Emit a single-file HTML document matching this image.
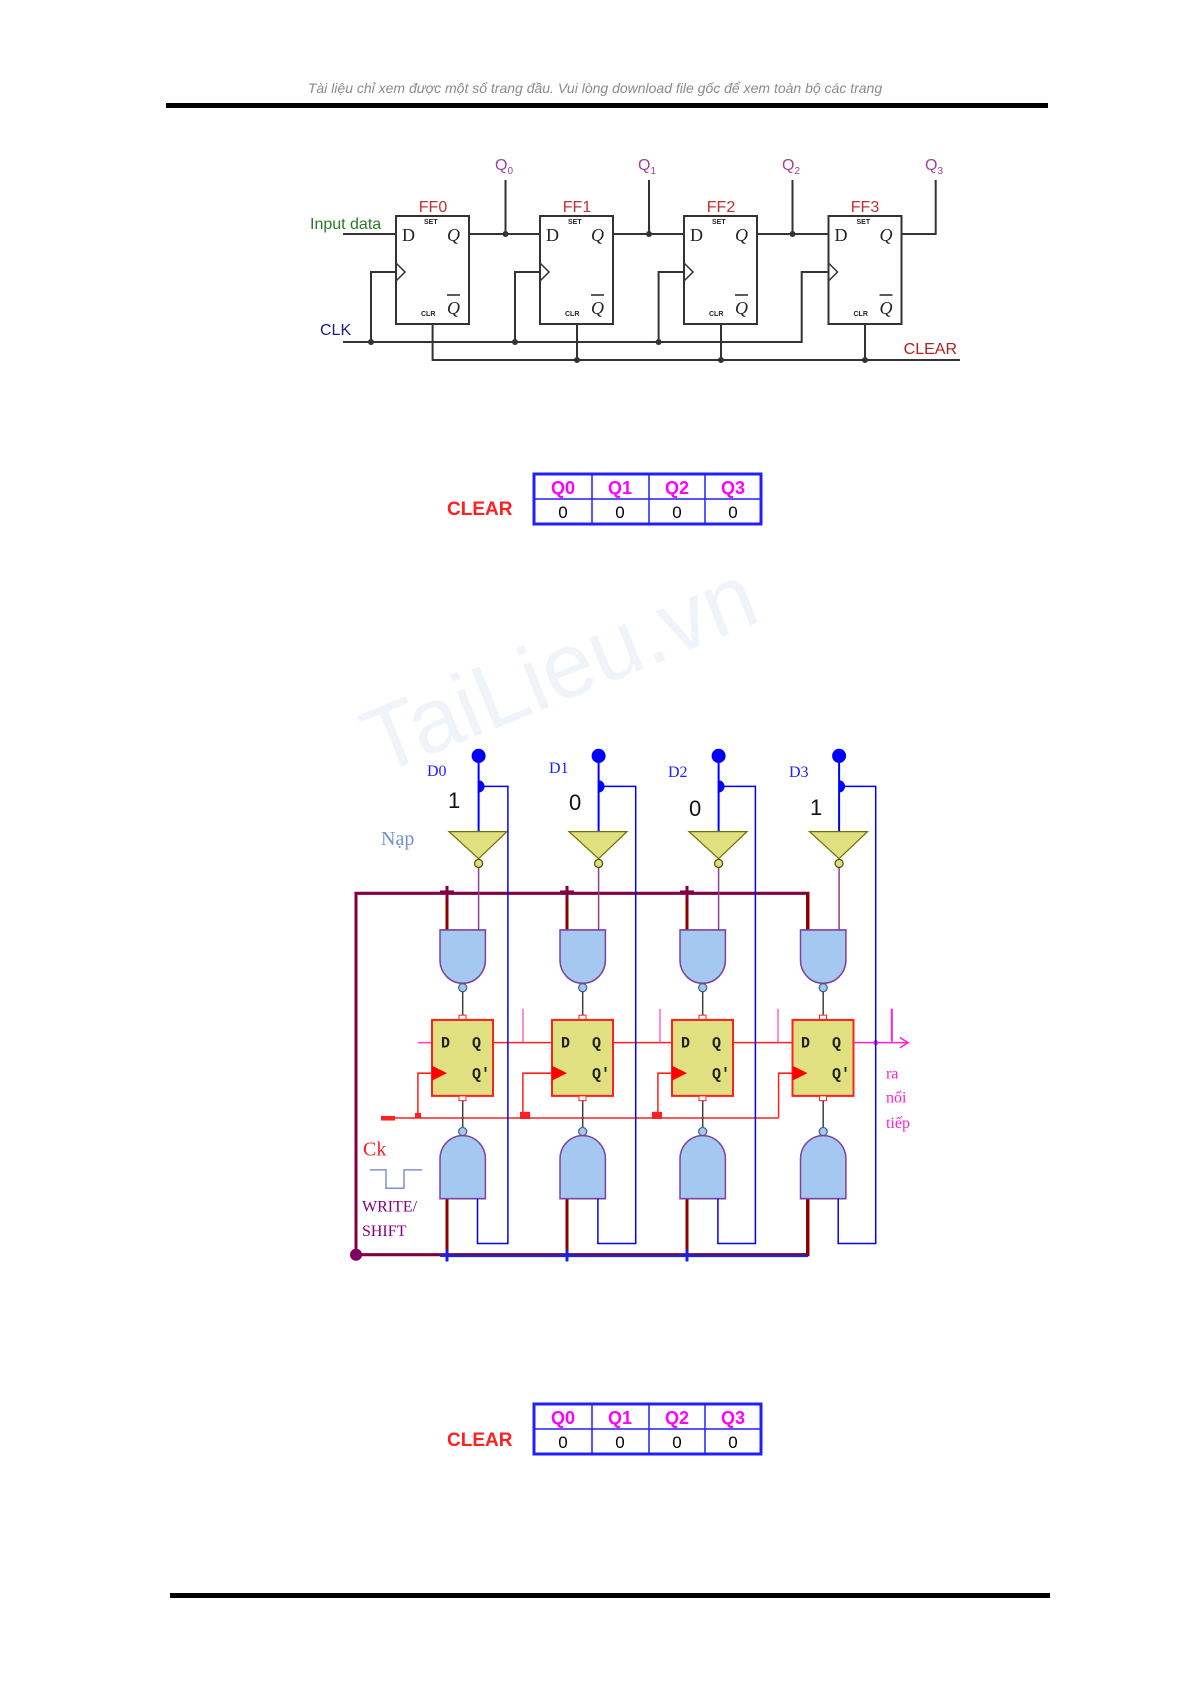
<!DOCTYPE html>
<html><head><meta charset="utf-8"><style>
html,body{margin:0;padding:0;background:#fff;}
svg{display:block;}
</style></head><body>
<svg width="1191" height="1685" viewBox="0 0 1191 1685" xmlns="http://www.w3.org/2000/svg" font-family="Liberation Sans, sans-serif">
<!-- header -->
<text x="595" y="93" font-size="14" font-style="italic" fill="#8a8a8a" text-anchor="middle">Tài liệu chỉ xem được một số trang đầu. Vui lòng download file gốc để xem toàn bộ các trang</text>
<rect x="166" y="103" width="882" height="5" fill="#000"/>
<rect x="170" y="1593" width="880" height="5" fill="#000"/>

<!-- watermark -->
<text x="560" y="700" font-size="92" fill="#c8dced" opacity="0.3" text-anchor="middle" transform="rotate(-22 560 670)">TaiLieu.vn</text>

<!-- ===== top diagram ===== -->
<g stroke="#333" stroke-width="2" fill="none">
<line x1="343" y1="234" x2="396" y2="234"/>
<line x1="469.5" y1="234" x2="540" y2="234"/>
<line x1="612" y1="234" x2="684" y2="234"/>
<line x1="756.6" y1="234" x2="828.6" y2="234"/>
<polyline points="901,234 935.7,234 935.7,180"/>
<line x1="505.5" y1="234" x2="505.5" y2="180"/>
<line x1="649" y1="234" x2="649" y2="180"/>
<line x1="792.5" y1="234" x2="792.5" y2="180"/>
<polyline points="343,342 801.7,342 801.7,272 828.6,272"/>
<polyline points="371,342 371,272 396,272"/>
<polyline points="515,342 515,272 540,272"/>
<polyline points="658.6,342 658.6,272 684,272"/>
<polyline points="432.6,324 432.6,360 960,360"/>
<line x1="577" y1="324" x2="577" y2="360"/>
<line x1="721" y1="324" x2="721" y2="360"/>
<line x1="865" y1="324" x2="865" y2="360"/>
</g>
<g fill="#333">
<circle cx="505.5" cy="234" r="3"/><circle cx="649" cy="234" r="3"/><circle cx="792.5" cy="234" r="3"/>
<circle cx="371" cy="342" r="3"/><circle cx="515" cy="342" r="3"/><circle cx="658.6" cy="342" r="3"/>
<circle cx="577" cy="360" r="3"/><circle cx="721" cy="360" r="3"/><circle cx="865" cy="360" r="3"/>
</g>
<g id="ff">
<rect x="396" y="216" width="73" height="108" fill="#fff" stroke="#333" stroke-width="2"/>
<polyline points="396,263 405,272 396,281" fill="none" stroke="#333" stroke-width="1.5"/>
<text x="402" y="241" font-family="Liberation Serif, serif" font-size="18" fill="#222">D</text>
<text x="424" y="224" font-size="7" font-weight="bold" fill="#222">SET</text>
<text x="447" y="241" font-family="Liberation Serif, serif" font-style="italic" font-size="18" fill="#222">Q</text>
<text x="447" y="314" font-family="Liberation Serif, serif" font-style="italic" font-size="18" fill="#222">Q</text>
<line x1="447" y1="295" x2="460" y2="295" stroke="#222" stroke-width="1.5"/>
<text x="421" y="316" font-size="7" font-weight="bold" fill="#222">CLR</text>
</g>
<use href="#ff" x="144"/><use href="#ff" x="288"/><use href="#ff" x="432.5"/>
<g font-size="16" fill="#c03030" text-anchor="middle">
<text x="433" y="212">FF0</text><text x="577" y="212">FF1</text><text x="721" y="212">FF2</text><text x="865" y="212">FF3</text>
</g>
<g font-size="16" fill="#a040a0" text-anchor="middle">
<text x="504" y="170">Q<tspan font-size="10" dy="4">0</tspan></text>
<text x="647" y="170">Q<tspan font-size="10" dy="4">1</tspan></text>
<text x="791" y="170">Q<tspan font-size="10" dy="4">2</tspan></text>
<text x="934" y="170">Q<tspan font-size="10" dy="4">3</tspan></text>
</g>
<text x="310" y="229" font-size="16" fill="#2a7a2a">Input data</text>
<text x="320" y="335" font-size="16" fill="#1a1a90">CLK</text>
<text x="957" y="354" font-size="16" fill="#b02020" text-anchor="end">CLEAR</text>

<!-- table 1 -->
<g id="tbl">
<rect x="534" y="474" width="227" height="50" fill="#fff" stroke="#2020ff" stroke-width="3"/>
<line x1="534" y1="499" x2="761" y2="499" stroke="#2020ff" stroke-width="1.5"/>
<line x1="592" y1="474" x2="592" y2="524" stroke="#2020ff" stroke-width="1.5"/>
<line x1="649" y1="474" x2="649" y2="524" stroke="#2020ff" stroke-width="1.5"/>
<line x1="705" y1="474" x2="705" y2="524" stroke="#2020ff" stroke-width="1.5"/>
</g>
<g font-size="18" font-weight="bold" fill="#ff00ff" text-anchor="middle">
<text x="563" y="494">Q0</text><text x="620" y="494">Q1</text><text x="677" y="494">Q2</text><text x="733" y="494">Q3</text>
</g>
<g font-size="17" fill="#000" text-anchor="middle">
<text x="563" y="518">0</text><text x="620" y="518">0</text><text x="677" y="518">0</text><text x="733" y="518">0</text>
</g>
<text x="447" y="515" font-size="19" font-weight="bold" fill="#ff2020">CLEAR</text>

<!-- table 2 -->
<use href="#tbl" y="930"/>
<g font-size="18" font-weight="bold" fill="#ff00ff" text-anchor="middle">
<text x="563" y="1424">Q0</text><text x="620" y="1424">Q1</text><text x="677" y="1424">Q2</text><text x="733" y="1424">Q3</text>
</g>
<g font-size="17" fill="#000" text-anchor="middle">
<text x="563" y="1448">0</text><text x="620" y="1448">0</text><text x="677" y="1448">0</text><text x="733" y="1448">0</text>
</g>
<text x="447" y="1446" font-size="19" font-weight="bold" fill="#ff2020">CLEAR</text>

<!-- ===== bottom diagram ===== -->
<defs>
<g id="col">
<line x1="447" y1="893" x2="447" y2="929.3" stroke="#8b0000" stroke-width="3"/>
<line x1="447" y1="1193.3" x2="447" y2="1249" stroke="#8b0000" stroke-width="3"/>
<circle cx="478.6" cy="758.3" r="7" fill="#0000ff"/>
<line x1="478.6" y1="758.3" x2="478.6" y2="832.7" stroke="#0000ff" stroke-width="2"/>
<path d="M478.6,782.3 a6,6 0 0 1 0,12 z" fill="#0000ff"/>
<polygon points="449,832.7 507,832.7 478.6,859.3" fill="#e0e080" stroke="#707000" stroke-width="1.2"/>
<circle cx="478.6" cy="864" r="4" fill="#e0e080" stroke="#505000" stroke-width="1.2"/>
<line x1="478.6" y1="868" x2="478.6" y2="929.3" stroke="#904090" stroke-width="1.5"/>
<path d="M440,929.3 H485.4 V959 A22.7,22.7 0 0 1 440,959 Z" fill="#a4c8f0" stroke="#8040a0" stroke-width="1.5"/>
<circle cx="462.7" cy="986" r="4" fill="#a4c8f0" stroke="#406080" stroke-width="1.2"/>
<line x1="462.7" y1="990" x2="462.7" y2="1013" stroke="#404040" stroke-width="1.5"/>
<rect x="459" y="1013" width="7" height="4.7" fill="#fff" stroke="#ff2020"/>
<rect x="432" y="1017.7" width="61" height="74.6" fill="#e0e080" stroke="#ff2020" stroke-width="2"/>
<polygon points="432,1062.7 447,1070 432,1077.3" fill="#ff0000"/>
<rect x="459" y="1092.3" width="7" height="4.7" fill="#fff" stroke="#ff2020"/>
<line x1="462.7" y1="1097" x2="462.7" y2="1123.3" stroke="#404040" stroke-width="1.5"/>
<circle cx="462.7" cy="1127.3" r="4" fill="#a4c8f0" stroke="#406080" stroke-width="1.2"/>
<path d="M440,1193.3 V1154 A22.7,22.7 0 0 1 485.4,1154 V1193.3 Z" fill="#a4c8f0" stroke="#8040a0" stroke-width="1.5"/>
</g>
</defs>
<g transform="translate(0,893.3) scale(1,1.018) translate(0,-893.3)">
<g stroke="#800040" stroke-width="3" fill="none">
<polyline points="356,1248.3 356,893.3 808,893.3 808,929.3"/>
<polyline points="356,1248.3 447,1248.3"/>
<polyline points="447,1248.3 808,1248.3 808,1193.3" stroke="#8b0000"/>
</g>
<line x1="447" y1="1249.5" x2="808" y2="1249.5" stroke="#2020e0" stroke-width="2.5"/>
<circle cx="356" cy="1248.3" r="6" fill="#800060"/>
<g stroke="#ff2020" stroke-width="1.5" fill="none">
<line x1="381" y1="1114" x2="778.6" y2="1114"/>
<polyline points="417.9,1114 417.9,1070 432,1070"/>
<polyline points="522.9,1114 522.9,1070 552.5,1070"/>
<polyline points="657.9,1114 657.9,1070 672.9,1070"/>
<polyline points="778.6,1114 778.6,1070 792.9,1070"/>
<line x1="418" y1="1040" x2="432" y2="1040" stroke="#ff40c0"/>
<line x1="493" y1="1040" x2="552.5" y2="1040"/>
<line x1="613" y1="1040" x2="672.9" y2="1040"/>
<line x1="732.9" y1="1040" x2="792.9" y2="1040"/>
</g>
<rect x="381" y="1112" width="14" height="4.5" fill="#ff2020"/>
<rect x="520" y="1108" width="10" height="7" fill="#ff2020"/>
<rect x="652" y="1108" width="10" height="7" fill="#ff2020"/>
<rect x="415" y="1109" width="6" height="5" fill="#ff2020"/>
<g stroke="#ff40c0" stroke-width="1.2">
<line x1="523" y1="1006.7" x2="523" y2="1040"/>
<line x1="660" y1="1006.7" x2="660" y2="1040"/>
<line x1="778" y1="1006.7" x2="778" y2="1040"/>
</g>
<line x1="853.6" y1="1040" x2="908" y2="1040" stroke="#ff20d0" stroke-width="1.5"/>
<polyline points="900,1035 908,1040 900,1045" fill="none" stroke="#ff20d0" stroke-width="1.5"/>
<line x1="891.8" y1="1006.7" x2="891.8" y2="1039" stroke="#ff20d0" stroke-width="2"/>
<circle cx="875.7" cy="1040" r="2.5" fill="#ff20d0"/>
<g font-family="Liberation Serif, serif" font-size="16" fill="#ff20d0">
<text x="886" y="1075">ra</text><text x="886" y="1099">nối</text><text x="886" y="1124">tiếp</text>
</g>
<use href="#col"/>
<use href="#col" x="120"/>
<use href="#col" x="240"/>
<use href="#col" x="360.5"/>
<g font-size="15" font-weight="bold" fill="#202020" font-family="Liberation Mono, monospace">
<text x="441" y="1045">D</text><text x="472" y="1045">Q</text><text x="472" y="1075">Q'</text>
<text x="561" y="1045">D</text><text x="592" y="1045">Q</text><text x="592" y="1075">Q'</text>
<text x="681" y="1045">D</text><text x="712" y="1045">Q</text><text x="712" y="1075">Q'</text>
<text x="801" y="1045">D</text><text x="832" y="1045">Q</text><text x="832" y="1075">Q'</text>
</g>
<g stroke="#800040" stroke-width="3">
<line x1="440" y1="892" x2="454" y2="892"/><line x1="447" y1="886" x2="447" y2="899"/>
<line x1="560" y1="892" x2="574" y2="892"/><line x1="567" y1="886" x2="567" y2="899"/>
<line x1="680" y1="892" x2="694" y2="892"/><line x1="687" y1="886" x2="687" y2="899"/>
</g>
<g stroke="#2020e0" stroke-width="3">
<line x1="440" y1="1249" x2="454" y2="1249"/><line x1="447" y1="1243" x2="447" y2="1255"/>
<line x1="560" y1="1249" x2="574" y2="1249"/><line x1="567" y1="1243" x2="567" y2="1255"/>
<line x1="680" y1="1249" x2="694" y2="1249"/><line x1="687" y1="1243" x2="687" y2="1255"/>
</g>
<g stroke="#0000ff" stroke-width="1.5" fill="none">
<polyline points="480,788.3 507.9,788.3 507.9,1237.3 477.5,1237.3 477.5,1193.3"/>
<polyline points="600,788.3 635.7,788.3 635.7,1237.3 597.9,1237.3 597.9,1193.3"/>
<polyline points="720,788.3 755.4,788.3 755.4,1237.3 717.9,1237.3 717.9,1193.3"/>
<polyline points="840.5,788.3 875.7,788.3 875.7,1237.3 838.2,1237.3 838.2,1193.3"/>
</g>
<text x="363" y="1151" font-family="Liberation Serif, serif" font-size="20" fill="#ff2020">Ck</text>
<polyline points="370,1165 386,1165 386,1183 404,1183 404,1165 422,1165" fill="none" stroke="#8090d0" stroke-width="1.5"/>
<g font-family="Liberation Serif, serif" font-size="16" fill="#800080">
<text x="362" y="1206">WRITE/</text><text x="362" y="1230">SHIFT</text>
</g>
</g>
<g font-family="Liberation Serif, serif" font-size="16" fill="#2020ff">
<text x="427" y="776">D0</text><text x="549" y="773">D1</text><text x="668" y="777">D2</text><text x="789" y="777">D3</text>
</g>
<g font-size="22" fill="#111">
<text x="448" y="808">1</text><text x="569" y="810">0</text><text x="689" y="816">0</text><text x="810" y="815">1</text>
</g>
<text x="381" y="845" font-family="Liberation Serif, serif" font-size="20" fill="#7090d0">Nạp</text>
</svg>
</body></html>
